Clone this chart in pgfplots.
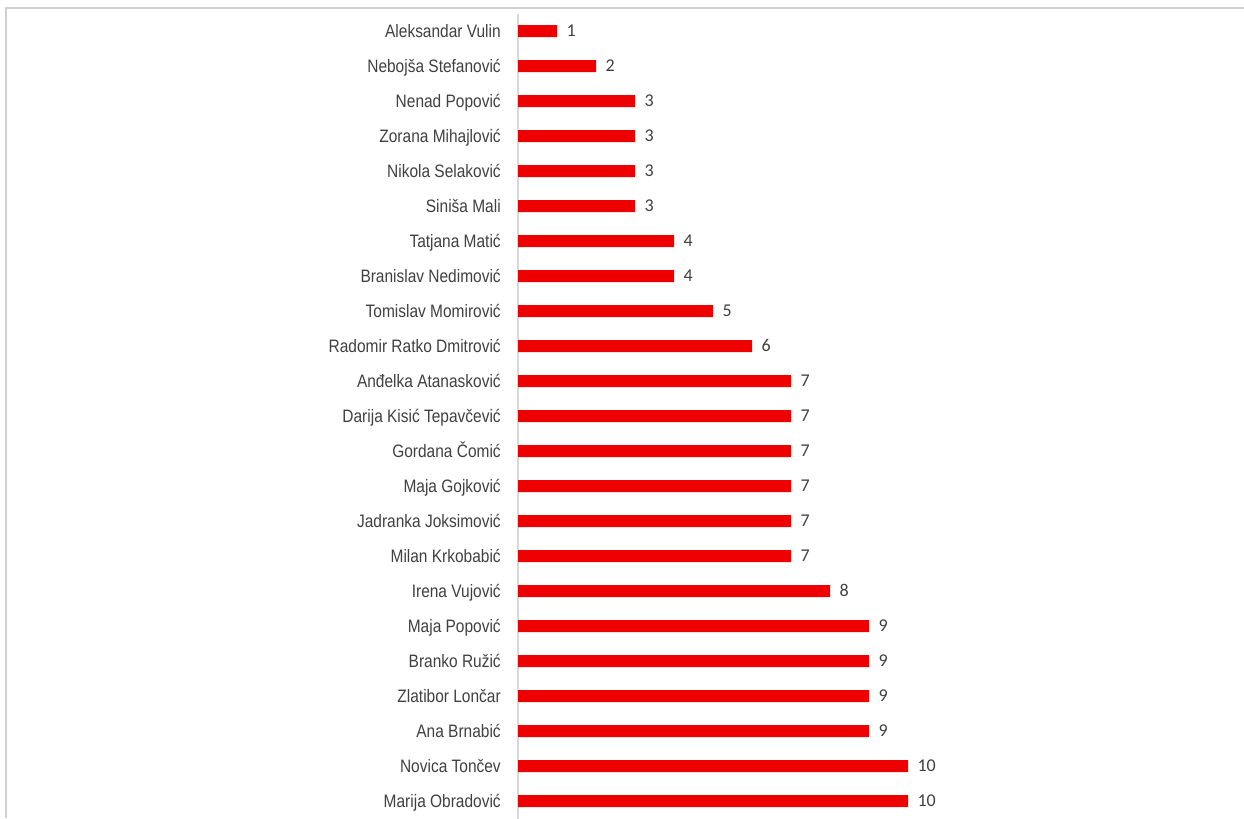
\documentclass[border=0pt]{standalone}
\usepackage{fontspec}
\setmainfont{Liberation Sans}
\newfontfamily\narrowfont[FakeStretch=0.86]{Liberation Sans}
\newfontfamily\numfont{Carlito}
\usepackage{pgfplots}
\pgfplotsset{compat=1.18}
\definecolor{barred}{RGB}{238,0,0}
\definecolor{labelgray}{RGB}{64,64,64}
\definecolor{axisgray}{RGB}{217,217,217}
\definecolor{framegray}{RGB}{208,208,208}
\begin{document}
\begin{tikzpicture}
\useasboundingbox (0pt,0pt) rectangle (933pt,-613.5pt);
\draw[framegray, line width=0.9pt] (4.5pt,-613.5pt) -- (4.5pt,-6pt) -- (933pt,-6pt);
\begin{axis}[
  at={(388.5pt,-10.125pt)}, anchor=north west,
  scale only axis,
  width=292.5pt, height=603.75pt,
  xbar, bar width=9pt,
  xmin=0, xmax=10,
  ymin=-0.5, ymax=22.5,
  y dir=reverse,
  axis x line=none,
  axis y line*=left,
  y axis line style={axisgray, line width=0.9pt, -},
  ytick={0,...,22},
  major tick length=0pt,
  /pgf/number format/assume math mode=true,
  yticklabels={Aleksandar Vulin, Nebojša Stefanović, Nenad Popović, Zorana Mihajlović, Nikola Selaković, Siniša Mali, Tatjana Matić, Branislav Nedimović, Tomislav Momirović, Radomir Ratko Dmitrović, Anđelka Atanasković, Darija Kisić Tepavčević, Gordana Čomić, Maja Gojković, Jadranka Joksimović, Milan Krkobabić, Irena Vujović, Maja Popović, Branko Ružić, Zlatibor Lončar, Ana Brnabić, Novica Tončev, Marija Obradović},
  yticklabel style={font=\narrowfont\fontsize{13.5pt}{16pt}\selectfont, text=labelgray, inner sep=0pt, anchor=mid east, xshift=-12.75pt, yshift=-2pt},
  nodes near coords,
  nodes near coords style={font=\numfont\fontsize{13.5pt}{16pt}\selectfont, text=labelgray, anchor=mid west, inner sep=0pt, xshift=7pt, yshift=-1.8pt},
  clip=false,
]
\addplot[fill=barred, draw=none] coordinates {
(1,0) (2,1) (3,2) (3,3) (3,4) (3,5) (4,6) (4,7) (5,8) (6,9) (7,10) (7,11) (7,12) (7,13) (7,14) (7,15) (8,16) (9,17) (9,18) (9,19) (9,20) (10,21) (10,22)
};
\end{axis}
\end{tikzpicture}
\end{document}
